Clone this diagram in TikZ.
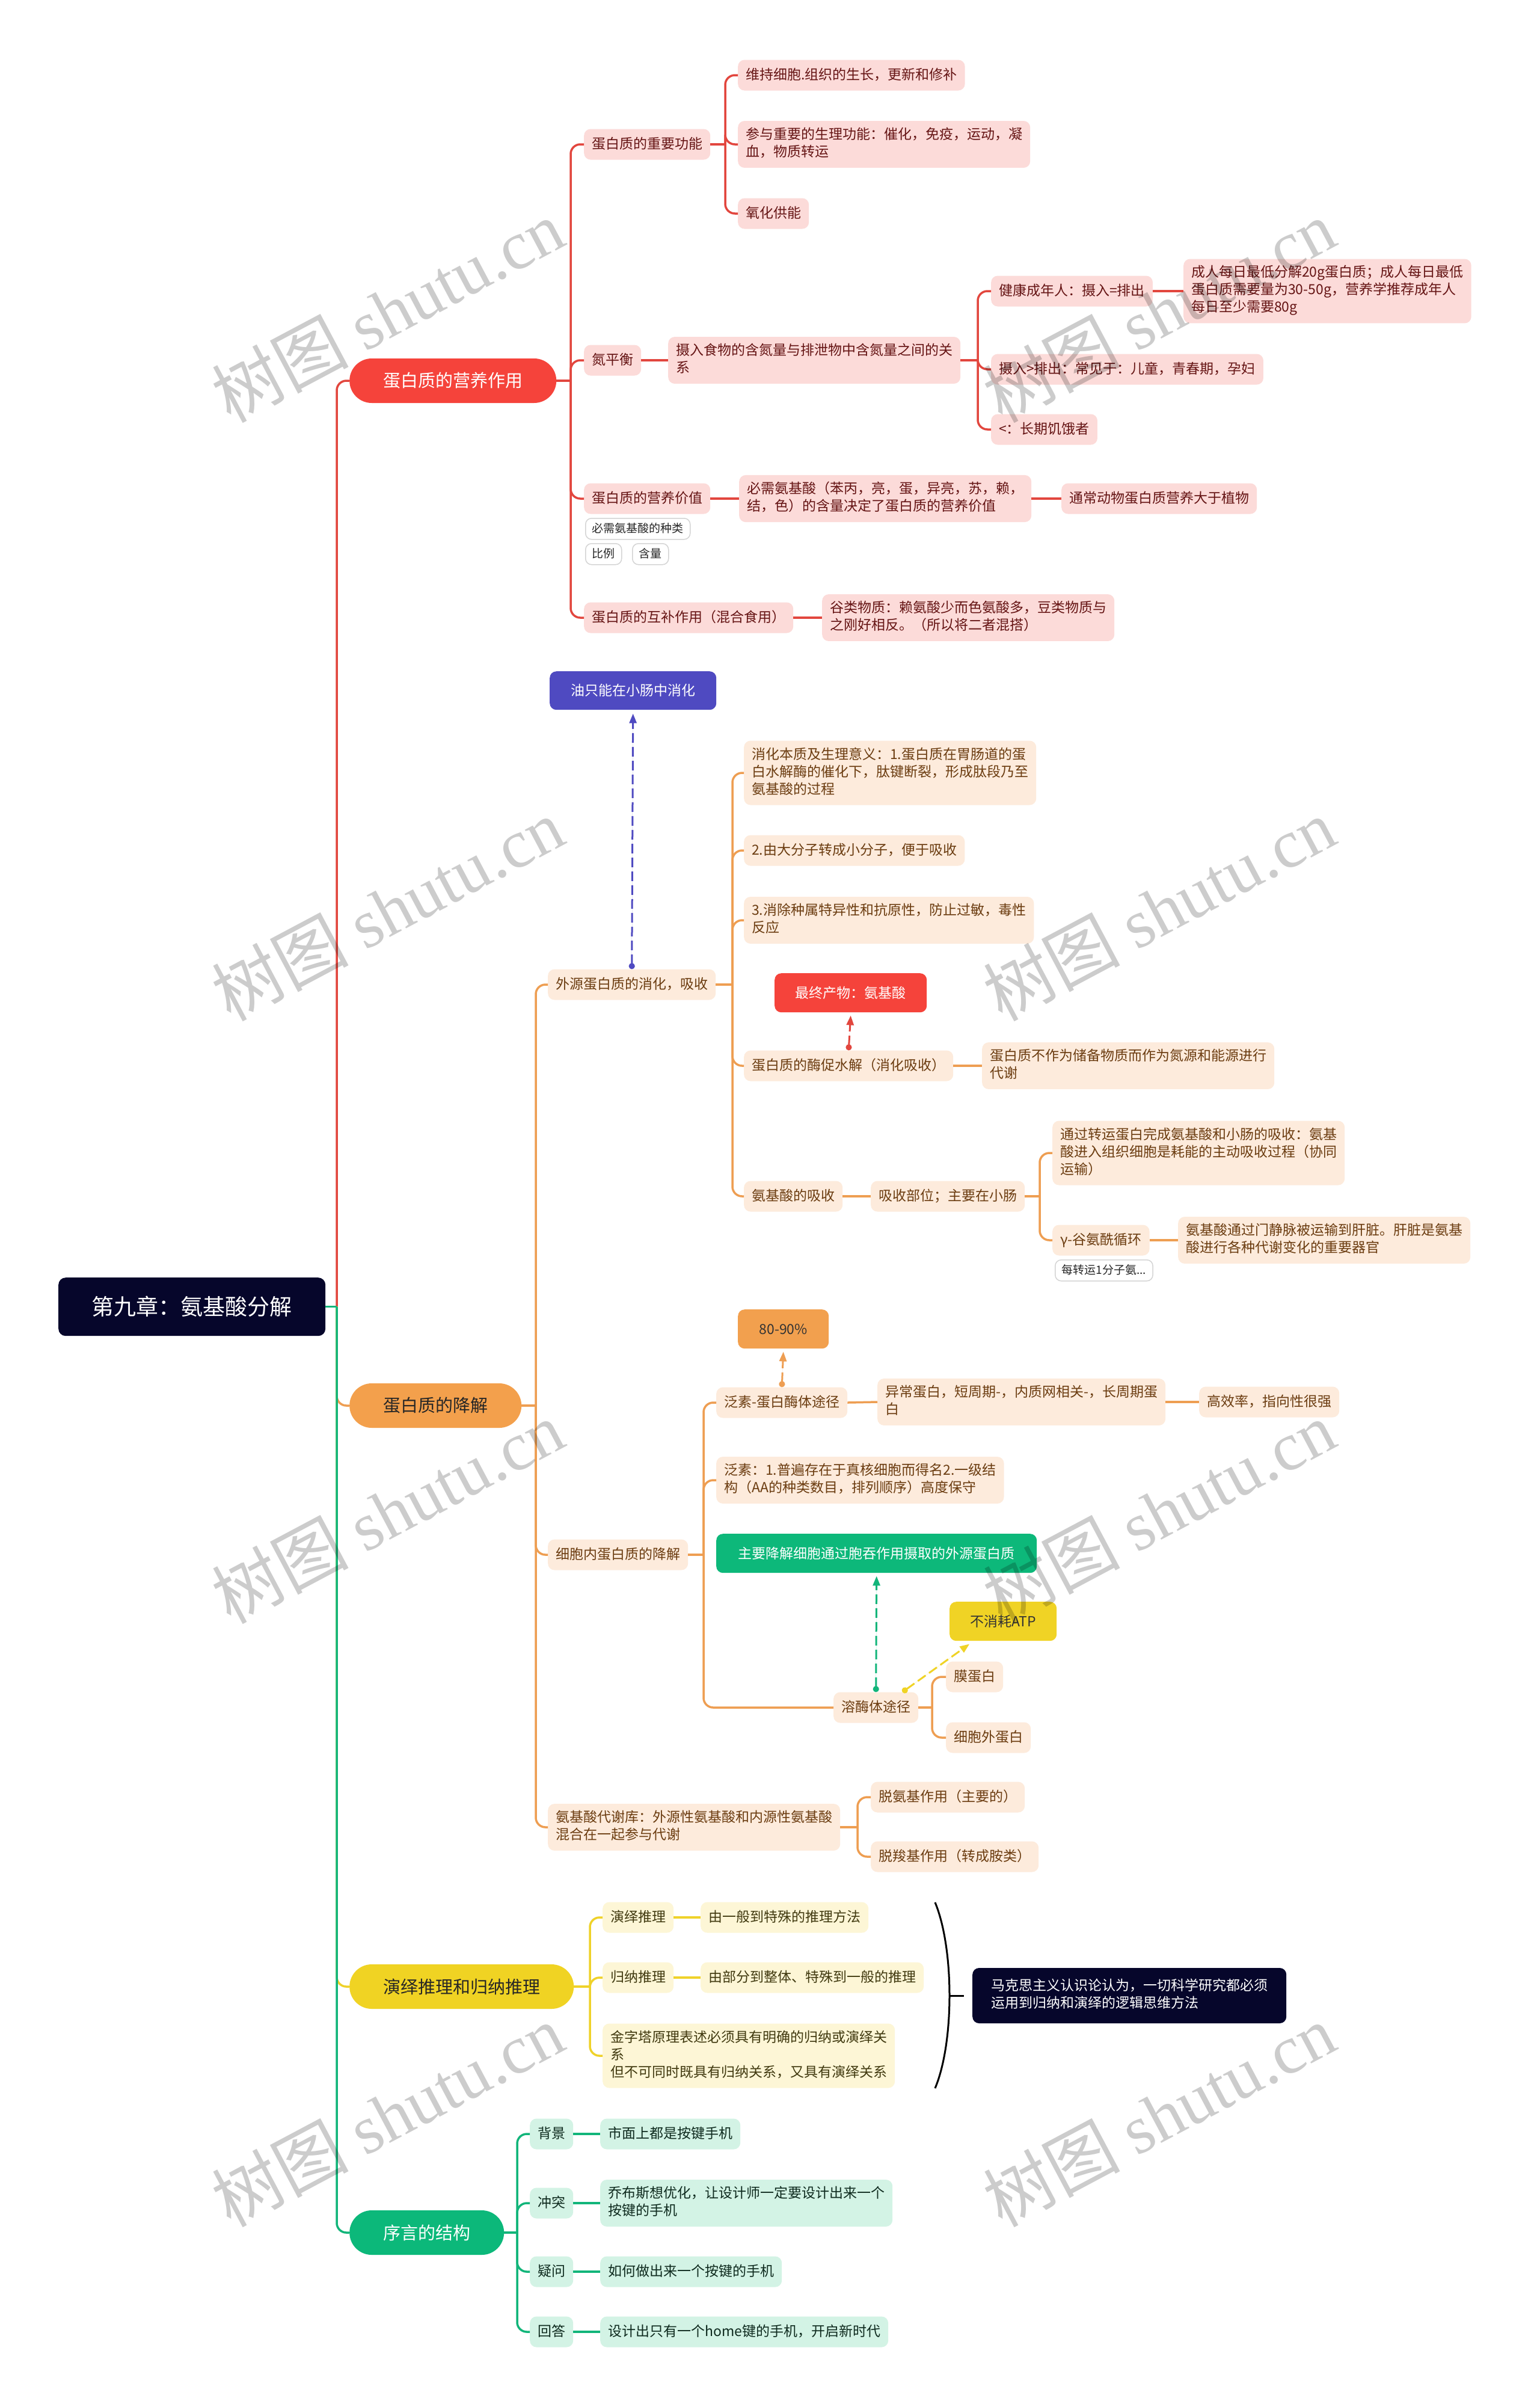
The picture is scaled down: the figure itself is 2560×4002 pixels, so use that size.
\documentclass[tikz,border=0pt]{standalone}
\usepackage{fontspec}
\setmainfont{Noto Sans CJK SC}
\newfontfamily\wmlatin{Liberation Serif}
\usetikzlibrary{arrows.meta}
\definecolor{navy}{HTML}{06062B}
\definecolor{rline}{HTML}{E2463E}
\definecolor{rpill}{HTML}{F5433B}
\definecolor{rfill}{HTML}{FCDBD9}
\definecolor{rtext}{HTML}{651414}
\definecolor{oline}{HTML}{EE9E52}
\definecolor{opill}{HTML}{F3A04C}
\definecolor{ofill}{HTML}{FDEBDC}
\definecolor{otext}{HTML}{6B3C10}
\definecolor{yline}{HTML}{EFD22A}
\definecolor{ypill}{HTML}{F0D323}
\definecolor{yfill}{HTML}{FDF6D6}
\definecolor{ytext}{HTML}{40390F}
\definecolor{gline}{HTML}{12B57A}
\definecolor{gpill}{HTML}{0CB87A}
\definecolor{gfill}{HTML}{D3F3E5}
\definecolor{gtext}{HTML}{0E2A1E}
\definecolor{bluebox}{HTML}{4F4AC1}
\definecolor{redbox}{HTML}{F5433B}
\definecolor{orgbox}{HTML}{F2A04E}
\definecolor{grnbox}{HTML}{0DB87A}
\definecolor{ylwbox}{HTML}{F0D325}
\definecolor{tagline}{HTML}{D4D4D4}
\newcommand\bst{\rule[-7.5pt]{0pt}{29pt}}
\newcommand\tst{\rule[-5.5pt]{0pt}{24pt}}
\tikzset{
  box/.style={rounded corners=11pt, inner xsep=13pt, inner ysep=11pt, align=left,
    font=\fontsize{23}{29}\selectfont, execute at begin node=\bst, execute at end node=\bst, anchor=west},
  rbox/.style={box, fill=rfill, text=rtext},
  obox/.style={box, fill=ofill, text=otext},
  ybox/.style={box, fill=yfill, text=ytext},
  gbox/.style={box, fill=gfill, text=gtext},
  tagbox/.style={draw=tagline, line width=1.5pt, fill=white, rounded corners=10pt, inner xsep=11pt,
    inner ysep=5.5pt, font=\fontsize{19}{24}\selectfont, execute at begin node=\tst, anchor=north west, text=black!85},
  pill/.style={rounded corners=37pt, minimum height=74pt, inner xsep=56pt, inner ysep=0pt,
    font=\fontsize{29}{35}\selectfont, anchor=west},
  flt/.style={rounded corners=11pt, font=\fontsize{23}{29}\selectfont, anchor=north west, inner sep=0pt},
  rootbox/.style={fill=navy, text=white, rounded corners=12pt, minimum width=444pt, minimum height=97pt,
    font=\fontsize{37}{44}\selectfont, anchor=north west, inner sep=0pt},
  rl/.style={draw=rline, line width=3.5pt, rounded corners=16pt},
  ol/.style={draw=oline, line width=3.5pt, rounded corners=16pt},
  yl/.style={draw=yline, line width=3.5pt, rounded corners=16pt},
  gl/.style={draw=gline, line width=3.5pt, rounded corners=16pt},
  dsh/.style={line width=3pt, dash pattern=on 16pt off 7pt, {Circle[length=10pt]}-{Triangle[length=16pt,width=12pt]}},
  brace/.style={draw=black, line width=3pt},
  wm/.style={rotate=28, text=black, text opacity=0.2, font=\fontsize{114}{120}\selectfont, inner sep=0pt}
}
\begin{document}
\begin{tikzpicture}[x=1pt,y=-1pt]
\useasboundingbox (0,0) rectangle (2560,4002);
\fill[white] (0,0) rectangle (2560,4002);

% vertical line positions
\coordinate (v0) at (560,0);
\coordinate (v1) at (949,0);
\coordinate (va) at (1206,0);
\coordinate (vb) at (1626,0);
\coordinate (v2) at (891,0);
\coordinate (vw) at (1218,0);
\coordinate (vx5) at (1729,0);
\coordinate (vc) at (1170,0);
\coordinate (vr) at (1550,0);
\coordinate (vk) at (1426,0);
\coordinate (vy) at (981,0);
\coordinate (vg) at (860,0);

% root and level 1
\node[rootbox] (root) at (97,2124) {第九章：氨基酸分解};
\node[pill, fill=rpill, text=white] (n1) at (581,633) {蛋白质的营养作用};
\node[pill, fill=opill, text=black!85] (n2) at (581,2337) {蛋白质的降解};
\node[pill, fill=ypill, text=black!85] (n3) at (581,3303) {演绎推理和归纳推理};
\node[pill, fill=gpill, text=white] (n4) at (581,3712) {序言的结构};

% ---------- red subtree ----------
\node[rbox] (a) at (971,240) {蛋白质的重要功能};
\node[rbox] (a1) at (1227,125) {维持细胞.组织的生长，更新和修补};
\node[rbox] (a2) at (1227,240) {参与重要的生理功能：催化，免疫，运动，凝\\血，物质转运};
\node[rbox] (a3) at (1227,355) {氧化供能};
\node[rbox] (b) at (971,599) {氮平衡};
\node[rbox] (b1) at (1111,599) {摄入食物的含氮量与排泄物中含氮量之间的关\\系};
\node[rbox] (b1a) at (1648,484) {健康成年人：摄入=排出};
\node[rbox] (b1a1) at (1968,484) {成人每日最低分解20g蛋白质；成人每日最低\\蛋白质需要量为30-50g，营养学推荐成年人\\每日至少需要80g};
\node[rbox] (b1b) at (1648,614) {摄入>排出：常见于：儿童，青春期，孕妇};
\node[rbox] (b1c) at (1648,714) {<：长期饥饿者};
\node[rbox] (c) at (971,829) {蛋白质的营养价值};
\node[tagbox] (t1) at (973,861) {必需氨基酸的种类};
\node[tagbox] (t2) at (973,903) {比例};
\node[tagbox] (t3) at (1051,903) {含量};
\node[rbox] (c1) at (1229,829) {必需氨基酸（苯丙，亮，蛋，异亮，苏，赖，\\结，色）的含量决定了蛋白质的营养价值};
\node[rbox] (c2) at (1765,829) {通常动物蛋白质营养大于植物};
\node[rbox] (d) at (971,1027) {蛋白质的互补作用（混合食用）};
\node[rbox] (d1) at (1367,1027) {谷类物质：赖氨酸少而色氨酸多，豆类物质与\\之刚好相反。（所以将二者混搭）};

% ---------- orange subtree ----------
\node[flt, fill=bluebox, text=white, minimum width=277pt, minimum height=64pt] (you) at (914,1116) {油只能在小肠中消化};
\node[obox] (wai) at (911,1637) {外源蛋白质的消化，吸收};
\node[obox] (w1) at (1237,1285) {消化本质及生理意义：1.蛋白质在胃肠道的蛋\\白水解酶的催化下，肽键断裂，形成肽段乃至\\氨基酸的过程};
\node[obox] (w2) at (1237,1414) {2.由大分子转成小分子，便于吸收};
\node[obox] (w3) at (1237,1530) {3.消除种属特异性和抗原性，防止过敏，毒性\\反应};
\node[flt, fill=redbox, text=white, minimum width=253pt, minimum height=65pt] (zui) at (1288,1618) {最终产物：氨基酸};
\node[obox] (w4) at (1237,1772) {蛋白质的酶促水解（消化吸收）};
\node[obox] (w4a) at (1633,1772) {蛋白质不作为储备物质而作为氮源和能源进行\\代谢};
\node[obox] (w5) at (1237,1989) {氨基酸的吸收};
\node[obox] (w5a) at (1448,1989) {吸收部位；主要在小肠};
\node[obox] (w5b) at (1750,1917) {通过转运蛋白完成氨基酸和小肠的吸收：氨基\\酸进入组织细胞是耗能的主动吸收过程（协同\\运输）};
\node[obox] (w5c) at (1750,2062) {γ-谷氨酰循环};
\node[tagbox] (t4) at (1754,2094) {每转运1分子氨...};
\node[obox] (w5c1) at (1959,2062) {氨基酸通过门静脉被运输到肝脏。肝脏是氨基\\酸进行各种代谢变化的重要器官};

\node[obox] (xibao) at (911,2585) {细胞内蛋白质的降解};
\node[flt, fill=orgbox, text=black!80, minimum width=151pt, minimum height=65pt] (p89) at (1227,2177) {80-90\%};
\node[obox] (x1) at (1191,2332) {泛素-蛋白酶体途径};
\node[obox] (x1a) at (1459,2331) {异常蛋白，短周期-，内质网相关-，长周期蛋\\白};
\node[obox] (x1b) at (1994,2331) {高效率，指向性很强};
\node[obox] (x2) at (1191,2461) {泛素：1.普遍存在于真核细胞而得名2.一级结\\构（AA的种类数目，排列顺序）高度保守};
\node[flt, fill=grnbox, text=white, minimum width=533pt, minimum height=65pt] (grn) at (1191,2550) {主要降解细胞通过胞吞作用摄取的外源蛋白质};
\node[flt, fill=ylwbox, text=black!80, minimum width=178pt, minimum height=65pt] (atp) at (1579,2663) {不消耗ATP};
\node[obox] (x3) at (1386,2839) {溶酶体途径};
\node[obox] (x3a) at (1573,2788) {膜蛋白};
\node[obox] (x3b) at (1573,2889) {细胞外蛋白};
\node[obox] (kuku) at (911,3038) {氨基酸代谢库：外源性氨基酸和内源性氨基酸\\混合在一起参与代谢};
\node[obox] (k1) at (1448,2988) {脱氨基作用（主要的）};
\node[obox] (k2) at (1448,3087) {脱羧基作用（转成胺类）};

% ---------- yellow subtree ----------
\node[ybox] (y1) at (1002,3188) {演绎推理};
\node[ybox] (y1a) at (1165,3188) {由一般到特殊的推理方法};
\node[ybox] (y2) at (1002,3288) {归纳推理};
\node[ybox] (y2a) at (1165,3288) {由部分到整体、特殊到一般的推理};
\node[ybox] (y3) at (1002,3418) {金字塔原理表述必须具有明确的归纳或演绎关\\系\\但不可同时既具有归纳关系，又具有演绎关系};
\node[box, fill=navy, text=white, inner xsep=31pt, inner ysep=18pt] (mks) at (1617,3318) {马克思主义认识论认为，一切科学研究都必须\\运用到归纳和演绎的逻辑思维方法};
\coordinate (bt) at (1555,3163);
\coordinate (bb) at (1555,3472);
\coordinate (bm) at (1579,3318);

% ---------- green subtree ----------
\node[gbox] (g1) at (881,3548) {背景};
\node[gbox] (g1a) at (998,3548) {市面上都是按键手机};
\node[gbox] (g2) at (881,3663) {冲突};
\node[gbox] (g2a) at (998,3663) {乔布斯想优化，让设计师一定要设计出来一个\\按键的手机};
\node[gbox] (g3) at (881,3777) {疑问};
\node[gbox] (g3a) at (998,3777) {如何做出来一个按键的手机};
\node[gbox] (g4) at (881,3877) {回答};
\node[gbox] (g4a) at (998,3877) {设计出只有一个home键的手机，开启新时代};

% ---------- connectors ----------
\draw[rl] (root.east -| v0) |- (n1.west);
\draw[ol] (root.east -| v0) |- (n2.west);
\draw[yl] (root.east -| v0) |- (n3.west);
\draw[gl] (root.east -| v0) |- (n4.west);
\draw[gl] (root.east) -- (root.east -| v0);

\draw[rl] (n1.east) -- (n1.east -| v1);
\foreach \c in {a,b,c,d} \draw[rl] (n1.east -| v1) |- (\c.west);
\draw[rl] (a.east) -- (a.east -| va);
\foreach \c in {a1,a2,a3} \draw[rl] (a.east -| va) |- (\c.west);
\draw[rl] (b.east) -- (b1.west);
\draw[rl] (b1.east) -- (b1.east -| vb);
\foreach \c in {b1a,b1b,b1c} \draw[rl] (b1.east -| vb) |- (\c.west);
\draw[rl] (b1a.east) -- (b1a1.west);
\draw[rl] (c.east) -- (c1.west);
\draw[rl] (c1.east) -- (c2.west);
\draw[rl] (d.east) -- (d1.west);

\draw[ol] (n2.east) -- (n2.east -| v2);
\foreach \c in {wai,xibao,kuku} \draw[ol] (n2.east -| v2) |- (\c.west);
\draw[ol] (wai.east) -- (wai.east -| vw);
\foreach \c in {w1,w2,w3,w4,w5} \draw[ol] (wai.east -| vw) |- (\c.west);
\draw[ol] (w4.east) -- (w4a.west);
\draw[ol] (w5.east) -- (w5a.west);
\draw[ol] (w5a.east) -- (w5a.east -| vx5);
\foreach \c in {w5b,w5c} \draw[ol] (w5a.east -| vx5) |- (\c.west);
\draw[ol] (w5c.east) -- (w5c1.west);
\draw[ol] (xibao.east) -- (xibao.east -| vc);
\foreach \c in {x1,x2,x3} \draw[ol] (xibao.east -| vc) |- (\c.west);
\draw[ol] (x1.east) -- (x1a.west);
\draw[ol] (x1a.east) -- (x1b.west);
\draw[ol] (x3.east) -- (x3.east -| vr);
\foreach \c in {x3a,x3b} \draw[ol] (x3.east -| vr) |- (\c.west);
\draw[ol] (kuku.east) -- (kuku.east -| vk);
\foreach \c in {k1,k2} \draw[ol] (kuku.east -| vk) |- (\c.west);

\draw[dsh, draw=bluebox, fill=bluebox] (wai.north) -- ([yshift=-6pt]you.south);
\draw[dsh, draw=rline, fill=rline] (w4.north) -- ([yshift=-5pt]zui.south);
\draw[dsh, draw=oline, fill=oline] (x1.north) -- ([yshift=-5pt]p89.south);
\draw[dsh, draw=gline, fill=gline] (x3.north) -- ([yshift=-5pt]grn.south);
\draw[dsh, draw=ylwbox, fill=ylwbox] ([xshift=44pt]x3.north) -- ([xshift=-56pt,yshift=-5pt]atp.south);

\draw[yl] (n3.east) -- (n3.east -| vy);
\foreach \c in {y1,y2,y3} \draw[yl] (n3.east -| vy) |- (\c.west);
\draw[yl] (y1.east) -- (y1a.west);
\draw[yl] (y2.east) -- (y2a.west);
\draw[brace] (bt) .. controls (1587,3240) and (1587,3396) .. (bb);
\draw[brace] (bm) -- ([xshift=-14pt]mks.west);

\draw[gl] (n4.east) -- (n4.east -| vg);
\foreach \c in {g1,g2,g3,g4} \draw[gl] (n4.east -| vg) |- (\c.west);
\foreach \c in {g1,g2,g3,g4} \draw[gl] (\c.east) -- (\c a.west);

% ---------- watermarks ----------
\foreach \x in {644,1927} \foreach \y in {517,1512,2514,3517}
  \node[wm] (wm-\x-\y) at (\x,\y) {树图 {\wmlatin shutu.cn}};
\end{tikzpicture}
\end{document}
